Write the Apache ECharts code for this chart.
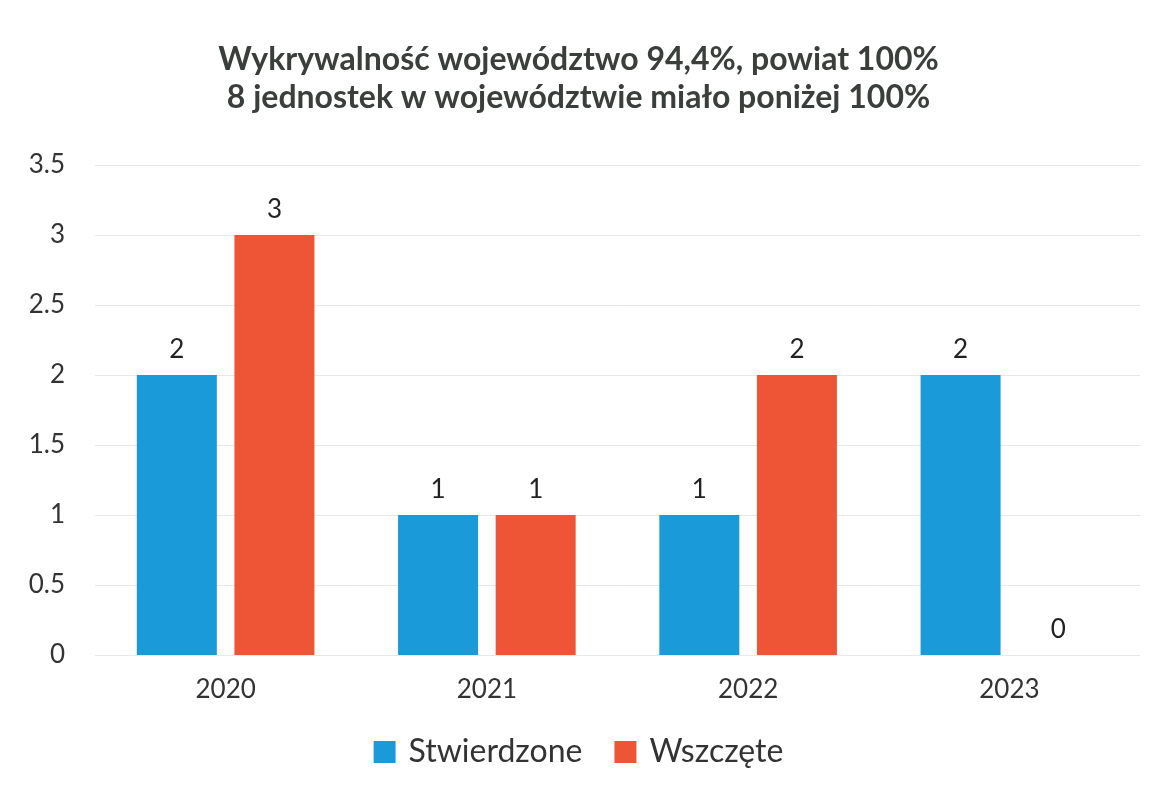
<!DOCTYPE html>
<html>
<head>
<meta charset="utf-8">
<script src="https://cdn.jsdelivr.net/npm/echarts@6/dist/echarts.min.js"></script>
<style>
  html, body { margin: 0; padding: 0; background: #fff; }
  #chart { width: 1157px; height: 795px; }
</style>
</head>
<body>
<div id="chart"></div>
<script>
var years = ['2020', '2021', '2022', '2023'];
var stwierdzone = [2, 1, 1, 2];
var wszczete = [3, 1, 2, 0];
var yTicks = [0, 0.5, 1, 1.5, 2, 2.5, 3, 3.5];

var chart = echarts.init(document.getElementById('chart'));
var fontFam = 'Lato, "Open Sans", sans-serif';

var option = {
    backgroundColor: '#fff',
    title: {
        text: 'Wykrywalność województwo 94,4%, powiat 100%\n8 jednostek w województwie miało poniżej 100%',
        left: 'center',
        top: 36,
        textStyle: {
            fontFamily: fontFam,
            fontSize: 32,
            fontWeight: 'bold',
            color: '#3b3f3b',
            lineHeight: 38
        }
    },
    legend: {
        bottom: 22,
        left: 'center',
        itemWidth: 22,
        itemHeight: 22,
        itemGap: 32,
        icon: 'rect',
        textStyle: { fontFamily: fontFam, fontSize: 32, color: '#333', padding: [0, 0, 0, 8] },
        data: ['Stwierdzone', 'Wszczęte']
    },
    grid: { left: 95, right: 17, top: 165, bottom: 140 },
    xAxis: {
        type: 'category',
        data: years,
        axisLine: { show: false },
        axisTick: { show: false },
        axisLabel: { fontFamily: fontFam, fontSize: 26, color: '#333', margin: 22 }
    },
    yAxis: {
        type: 'value',
        min: yTicks[0],
        max: yTicks[yTicks.length - 1],
        interval: 0.5,
        axisLine: { show: false },
        axisTick: { show: false },
        axisLabel: { fontFamily: fontFam, fontSize: 26, color: '#333', margin: 30 },
        splitLine: { lineStyle: { color: '#e8e8e8' } }
    },
    series: [
        {
            name: 'Stwierdzone',
            type: 'bar',
            data: stwierdzone,
            barWidth: 80,
            barGap: '22%',
            itemStyle: { color: '#1a9ad8' },
            label: { show: true, position: 'top', distance: 12, fontFamily: fontFam, fontSize: 26, color: '#222' }
        },
        {
            name: 'Wszczęte',
            type: 'bar',
            data: wszczete,
            barWidth: 80,
            itemStyle: { color: '#ee5436' },
            label: { show: true, position: 'top', distance: 12, fontFamily: fontFam, fontSize: 26, color: '#222' }
        }
    ]
};
chart.setOption(option);
</script>
</body>
</html>
